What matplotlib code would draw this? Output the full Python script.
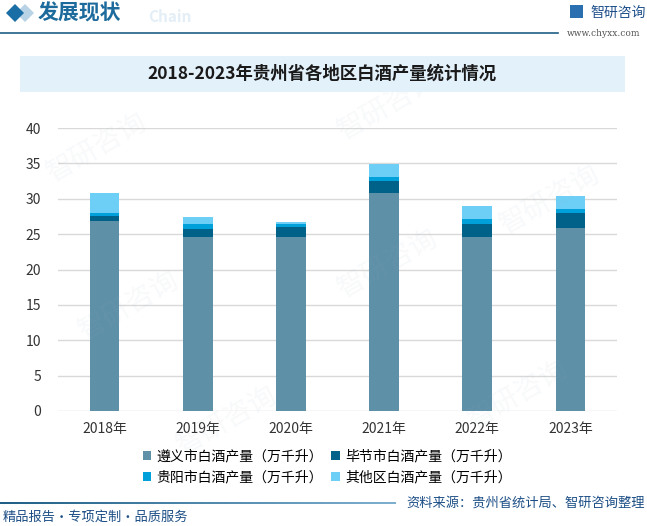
import matplotlib.pyplot as plt
import numpy as np
from matplotlib.patches import Rectangle, Polygon

plt.rcParams['font.family'] = ['Noto Sans CJK SC', 'DejaVu Sans']

years = ["2018年", "2019年", "2020年", "2021年", "2022年", "2023年"]
zunyi = [26.9, 24.6, 24.6, 30.8, 24.6, 25.8]
bijie = [0.7, 1.1, 1.35, 1.7, 1.8, 2.25]
guiyang = [0.4, 0.7, 0.45, 0.55, 0.7, 0.55]
others = [2.85, 1.0, 0.3, 1.8, 1.85, 1.85]
series_names = ["遵义市白酒产量（万千升）", "毕节市白酒产量（万千升）",
                "贵阳市白酒产量（万千升）", "其他区白酒产量（万千升）"]
colors = ["#5e90a8", "#006189", "#00a0db", "#6dcff6"]

fig = plt.figure(figsize=(6.47, 5.26), dpi=100)

# faint watermarks
for (wx, wy) in [(0.15, 0.72), (0.6, 0.8), (0.2, 0.42), (0.6, 0.5), (0.85, 0.62),
                 (0.35, 0.2), (0.8, 0.25)]:
    fig.text(wx, wy, "智研咨询", fontsize=20, color="#9fb4c8", alpha=0.08,
             rotation=30, ha="center", va="center", zorder=0)

# header
fig.patches.append(Polygon([[6, 513], [15, 522], [24, 513], [15, 504]], closed=True,
                           transform=None, facecolor="#1a6ea6", zorder=3))
fig.patches.append(Polygon([[16, 513], [25, 522], [34, 513], [25, 504]], closed=True,
                           transform=None, facecolor="#b9d3e6", zorder=2))
fig.text(38 / 647, 1 - 13 / 526, "发展现状", fontsize=15, fontweight="bold",
         color="#1d6a9c", va="center", ha="left")
fig.text(148 / 647, 1 - 17 / 526, "Chain", fontsize=11, fontweight="bold",
         color="#e3eef6", va="center", ha="left")
fig.add_artist(plt.Line2D([0, 558 / 647], [1 - 33 / 526] * 2, color="#1f5f86", lw=1.2))
fig.patches.append(Rectangle((570, 508), 13, 13, transform=None, facecolor="#2a6fb0"))
fig.text(590 / 647, 1 - 13 / 526, "智研咨询", fontsize=10, color="#1e4f8a",
         va="center", ha="left")
fig.text(567 / 647, 1 - 33 / 526, "www.chyxx.com", fontsize=6.5, color="#555555",
         va="center", ha="left", family="DejaVu Serif")

# title band
fig.patches.append(Rectangle((20, 434), 605, 36, transform=None,
                             facecolor="#e3f1fb", edgecolor="none"))
fig.text(322 / 647, 1 - 74 / 526, "2018-2023年贵州省各地区白酒产量统计情况",
         fontsize=12.5, fontweight="bold", color="#1a1a1a", ha="center", va="center")

# chart
ax = fig.add_axes([58 / 647, 1 - 411 / 526, 559 / 647, 283 / 526])
ax.set_facecolor("none")
x = np.arange(len(years))
bottom = np.zeros(len(years))
handles = []
for vals, name, c in zip([zunyi, bijie, guiyang, others], series_names, colors):
    b = ax.bar(x, vals, width=0.32, bottom=bottom, color=c, label=name, zorder=3)
    handles.append(b)
    bottom += np.array(vals)

ax.set_ylim(0, 40)
ax.set_yticks(range(0, 41, 5))
ax.set_xlim(-0.5, len(years) - 0.5)
ax.set_xticks(x)
ax.set_xticklabels(years)
ax.grid(axis="y", color="#d9d9d9", lw=1, zorder=0)
for s in ax.spines.values():
    s.set_visible(False)
ax.tick_params(axis="both", length=0, labelsize=10, colors="#333333")
ax.tick_params(axis="y", pad=12)
ax.tick_params(axis="x", pad=8)

# legend fills row-wise in the reference
order = [0, 2, 1, 3]
ax.legend([handles[i] for i in order], [series_names[i] for i in order],
          loc="upper left", bbox_to_anchor=(130 / 647, 1 - 437 / 526),
          bbox_transform=fig.transFigure, ncol=2, frameon=False, fontsize=10,
          handlelength=0.6, handleheight=0.6, handletextpad=0.4,
          columnspacing=0.6, labelspacing=0.5)

# footer
grad = np.linspace(0, 1, 256).reshape(1, -1)
fax = fig.add_axes([0, 1 - 504 / 526, 396 / 647, 2 / 526])
fax.imshow(grad, aspect="auto", cmap=plt.matplotlib.colors.LinearSegmentedColormap.from_list(
    "g", ["#1f5f86", "#7fb0d0"]))
fax.axis("off")
fig.text(645 / 647, 1 - 503 / 526, "资料来源：贵州省统计局、智研咨询整理", fontsize=9.5,
         color="#1d4f86", ha="right", va="center")
fig.text(3 / 647, 1 - 517 / 526, "精品报告・专项定制・品质服务", fontsize=9.5,
         color="#1d4f86", ha="left", va="center")

fig.savefig("out.png", dpi=100)
